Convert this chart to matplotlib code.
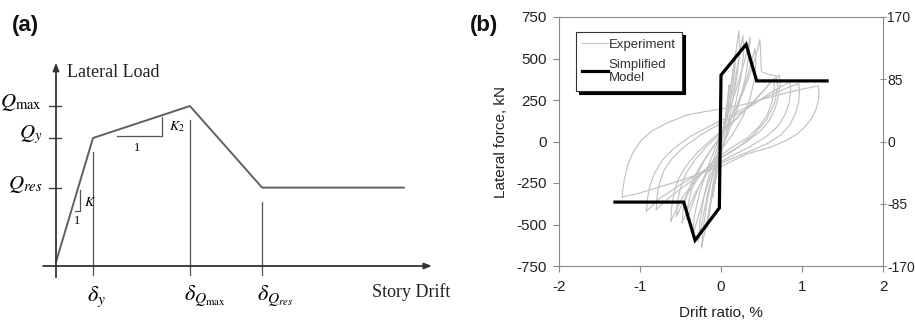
import matplotlib.pyplot as plt
import numpy as np

plt.rcParams['mathtext.fontset'] = 'stix'
plt.rcParams['axes.unicode_minus'] = False

# ---- (a) backbone schematic (drift in units of delta_y, load in units of Q_max)
drift_pts = [0.0, 1.0, 3.62, 5.57, 9.4]
load_pts = [0.025, 0.80, 1.0, 0.49, 0.49]
q_labels = [r'$Q_{\max}$', r'$Q_y$', r'$Q_{res}$']
q_levels = [1.0, 0.80, 0.49]
d_labels = [r'$\delta_y$', r'$\delta_{Q_{\max}}$', r'$\delta_{Q_{res}}$']

# ---- (b) experiment hysteresis loops (drift %, force kN)
loop1_x = [-0.10, -0.08, -0.04, 0.0, 0.04, 0.08, 0.10, 0.09, 0.06, 0.02, -0.02, -0.06, -0.10]
loop1_y = [-330, -250, -120, -20, 100, 250, 340, 260, 150, 30, -80, -200, -330]
loop2_x = [-0.17, -0.15, -0.10, -0.04, 0.02, 0.08, 0.14, 0.18, 0.17, 0.12, 0.06, 0.0, -0.06, -0.12, -0.17]
loop2_y = [-520, -420, -260, -110, 40, 200, 400, 540, 430, 260, 100, -30, -180, -350, -520]
loop3_x = [-0.24, -0.22, -0.16, -0.08, 0.0, 0.08, 0.16, 0.22, 0.23, 0.20, 0.12, 0.04, -0.04, -0.14, -0.24]
loop3_y = [-640, -520, -330, -150, 20, 200, 450, 665, 560, 400, 180, 0, -170, -400, -640]
loop3b_x = [-0.28, -0.26, -0.21, -0.13, -0.04, 0.06, 0.16, 0.27, 0.28, 0.25, 0.18, 0.08, -0.04, -0.16, -0.28]
loop3b_y = [-600, -480, -330, -170, -30, 130, 330, 640, 540, 400, 230, 60, -100, -300, -600]
loop4_x = [-0.35, -0.33, -0.26, -0.15, -0.04, 0.06, 0.18, 0.30, 0.36, 0.35, 0.30, 0.20, 0.08, -0.04, -0.18, -0.35]
loop4_y = [-570, -450, -300, -140, 0, 130, 300, 500, 630, 540, 380, 190, 40, -90, -280, -570]
loop5_x = [-0.42, -0.41, -0.37, -0.30, -0.20, -0.08, 0.06, 0.20, 0.32, 0.42, 0.43, 0.41, 0.36, 0.27, 0.14, 0.0, -0.14, -0.28, -0.42]
loop5_y = [-470, -390, -300, -200, -110, -20, 80, 220, 380, 560, 470, 370, 260, 150, 40, -50, -150, -280, -470]
loop5b_x = [-0.48, -0.47, -0.42, -0.34, -0.22, -0.08, 0.06, 0.20, 0.34, 0.44, 0.48, 0.50, 0.58, 0.68, 0.70, 0.66, 0.56, 0.40, 0.20, 0.0, -0.16, -0.32, -0.48]
loop5b_y = [-490, -410, -320, -220, -120, -20, 80, 210, 380, 530, 615, 420, 405, 395, 330, 230, 130, 40, -40, -100, -180, -310, -490]
loop6_x = [-0.62, -0.61, -0.58, -0.52, -0.42, -0.28, -0.10, 0.10, 0.30, 0.50, 0.62, 0.72, 0.73, 0.71, 0.67, 0.60, 0.48, 0.32, 0.12, -0.10, -0.30, -0.48, -0.62]
loop6_y = [-480, -400, -310, -220, -140, -60, 20, 100, 190, 290, 360, 400, 350, 280, 200, 130, 60, 0, -60, -130, -220, -340, -480]
loop6b_x = [-0.55, -0.54, -0.50, -0.43, -0.32, -0.18, 0.0, 0.20, 0.40, 0.55, 0.65, 0.66, 0.63, 0.57, 0.47, 0.32, 0.12, -0.08, -0.25, -0.42, -0.55]
loop6b_y = [-450, -370, -280, -190, -110, -30, 50, 140, 240, 320, 380, 320, 240, 160, 90, 20, -40, -110, -200, -320, -450]
loop7_x = [-0.92, -0.91, -0.88, -0.82, -0.72, -0.58, -0.38, -0.15, 0.10, 0.40, 0.70, 0.96, 0.97, 0.96, 0.92, 0.85, 0.74, 0.58, 0.35, 0.10, -0.20, -0.50, -0.75, -0.92]
loop7_y = [-420, -350, -270, -190, -110, -40, 30, 90, 150, 230, 300, 350, 300, 240, 170, 100, 40, -10, -60, -110, -170, -260, -340, -420]
loop7b_x = [-0.80, -0.79, -0.76, -0.70, -0.60, -0.45, -0.25, 0.0, 0.30, 0.60, 0.85, 0.86, 0.84, 0.79, 0.70, 0.56, 0.36, 0.12, -0.15, -0.40, -0.62, -0.80]
loop7b_y = [-410, -330, -250, -170, -100, -30, 40, 110, 190, 290, 360, 300, 230, 160, 90, 30, -30, -90, -160, -250, -330, -410]
loop8_x = [-1.22, -1.21, -1.19, -1.15, -1.08, -0.98, -0.85, -0.65, -0.42, -0.20, 0.0, 0.30, 0.70, 1.00, 1.20,
           1.21, 1.20, 1.17, 1.12, 1.04, 0.94, 0.80, 0.61, 0.32, 0.0, -0.50, -1.00, -1.22]
loop8_y = [-335, -280, -220, -140, -60, 10, 65, 115, 160, 180, 195, 225, 280, 315, 335,
           290, 240, 190, 140, 90, 45, 5, -35, -75, -150, -235, -310, -335]

# simplified model
model_x = [-1.31, -0.46, -0.32, -0.02, 0.0, 0.31, 0.44, 1.31]
model_y = [-365, -365, -595, -400, 400, 585, 365, 365]

xticks_b = [-2, -1, 0, 1, 2]
yticks_b = [-750, -500, -250, 0, 250, 500, 750]
yticks_kips = [-170, -85, 0, 85, 170]

fig = plt.figure(figsize=(9.15, 3.22), dpi=100)

# ================= (a)
axa = fig.add_axes([0, 0, 460 / 915, 1])
axa.set_xlim(-56 / 37, 404 / 37)
axa.set_ylim(-56 / 160, 266 / 160)
axa.axis('off')

arrow = dict(arrowstyle='-|>,head_length=0.45,head_width=0.18', lw=1.3,
             color='#333333', shrinkA=0, shrinkB=0)
axa.annotate('', xy=(0, 1.27), xytext=(0, -0.07), arrowprops=arrow)
axa.annotate('', xy=(10.16, 0), xytext=(-0.35, 0), arrowprops=arrow)

axa.plot(drift_pts, load_pts, color='#606060', lw=1.4)

for lv, lab in zip(q_levels, q_labels):
    axa.plot([-0.19, 0.14], [lv, lv], color='#444444', lw=1.0)
    axa.text(-0.37, lv + 0.02, lab, ha='right', va='center', fontsize=15)

for d, ld, lab in zip(drift_pts[1:4], load_pts[1:4], d_labels):
    axa.plot([d, d], [-0.056, ld - 0.09], color='#555555', lw=0.9)
    axa.text(d - 0.15, -0.19, lab, ha='left', va='center', fontsize=16)

# slope triangles
axa.plot([0.51, 0.657, 0.657], [0.344, 0.344, 0.475], color='#555555', lw=0.9)
axa.text(0.75, 0.40, r'$K$', fontsize=10, va='center')
axa.text(0.57, 0.28, '1', fontsize=9, family='Liberation Serif', ha='center', va='center')
axa.plot([1.65, 2.86, 2.86], [0.81, 0.81, 0.93], color='#555555', lw=0.9)
axa.text(3.05, 0.87, r'$K_2$', fontsize=10, va='center')
axa.text(2.19, 0.735, '1', fontsize=9, family='Liberation Serif', ha='center', va='center')

axa.text(0.3, 1.21, 'Lateral Load', family='Liberation Serif', fontsize=13,
         ha='left', va='center', color='#222222')
axa.text(8.54, -0.16, 'Story Drift', family='Liberation Serif', fontsize=13,
         ha='left', va='center', color='#222222')

fig.text(12 / 915, 0.922, '(a)', fontsize=16, fontweight='bold',
         family='Liberation Sans', va='center', ha='left', color='#111111')
fig.text(470 / 915, 0.922, '(b)', fontsize=16, fontweight='bold',
         family='Liberation Sans', va='center', ha='left', color='#111111')

# ================= (b)
axb = fig.add_axes([559 / 915, 56 / 322, 324 / 915, 249 / 322])
loops = [(loop1_x, loop1_y), (loop2_x, loop2_y), (loop3_x, loop3_y), (loop3b_x, loop3b_y),
         (loop4_x, loop4_y), (loop5_x, loop5_y), (loop5b_x, loop5b_y), (loop6_x, loop6_y),
         (loop6b_x, loop6b_y), (loop7_x, loop7_y), (loop7b_x, loop7b_y), (loop8_x, loop8_y)]
for i, (lx, ly) in enumerate(loops):
    axb.plot(lx, ly, color='#c2c2c2', lw=0.85, label='Experiment' if i == 0 else None)
axb.plot(model_x, model_y, color='black', lw=2.3, solid_joinstyle='miter',
         label='Simplified\nModel')

axb.set_xlim(-2, 2)
axb.set_ylim(-750, 750)
axb.set_xticks(xticks_b)
axb.set_yticks(yticks_b)
for s in axb.spines.values():
    s.set_color('#8a8a8a')
axb.tick_params(direction='out', length=4, color='#8a8a8a', labelsize=11,
                labelcolor='#222222')
axb.tick_params(axis='x', pad=6)
axb.tick_params(axis='y', pad=5)
for t in axb.get_xticklabels() + axb.get_yticklabels():
    t.set_family('Liberation Sans')
axb.set_xlabel('Drift ratio, %', fontsize=11, family='Liberation Sans',
               color='#222222', labelpad=9)
axb.set_ylabel('Lateral force, kN', fontsize=11, family='Liberation Sans',
               color='#222222', labelpad=6)

axr = axb.twinx()
axr.set_ylim(-170, 170)
axr.set_yticks(yticks_kips)
for s in axr.spines.values():
    s.set_visible(False)
axr.tick_params(direction='inout', length=5, color='#8a8a8a', labelsize=10,
                labelcolor='#222222', pad=0.5)
for t in axr.get_yticklabels():
    t.set_family('Liberation Sans')

leg = axb.legend(loc='upper left', bbox_to_anchor=(0.052, 0.94), borderaxespad=0,
                 frameon=True, fancybox=False, edgecolor='#333333',
                 shadow={'color': 'black', 'alpha': 1.0, 'ox': 2.2, 'oy': -2.2},
                 handlelength=1.9, handletextpad=0.1, borderpad=0.5,
                 labelspacing=0.6, prop={'family': 'Liberation Sans', 'size': 9.5})
leg.get_frame().set_linewidth(0.8)
for t in leg.get_texts():
    t.set_color('#333333')

fig.savefig('out.png', dpi=100)
